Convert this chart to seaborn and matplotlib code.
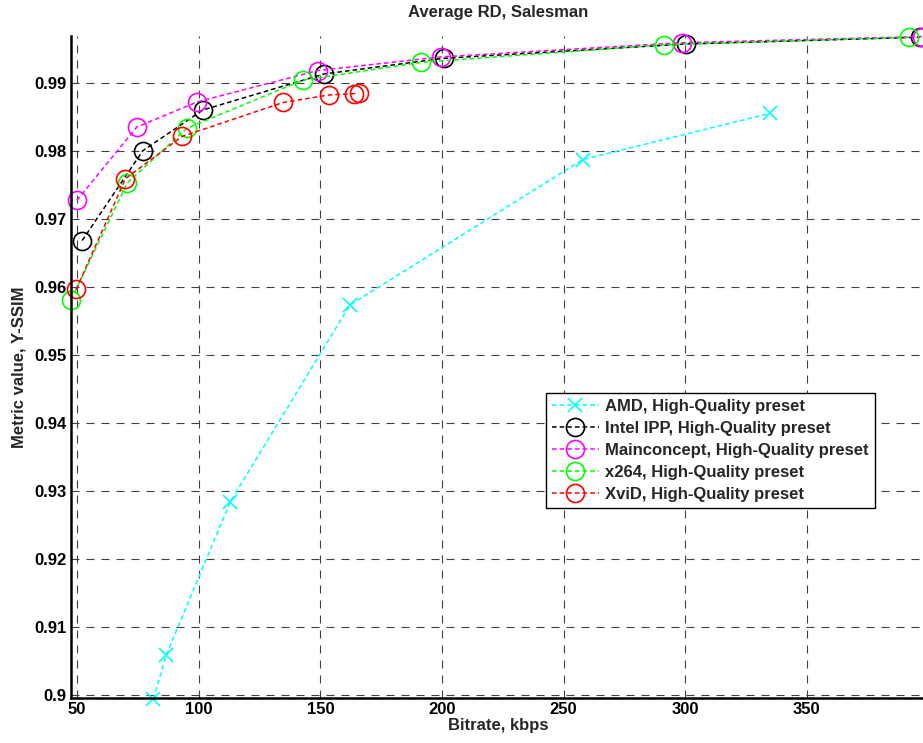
import numpy as np
import pandas as pd
import matplotlib
matplotlib.use("Agg")
import matplotlib.pyplot as plt
import seaborn as sns

sns.set_style("white")
plt.rcParams['font.family'] = ['Liberation Sans', 'DejaVu Sans']
plt.rcParams['font.weight'] = 'bold'

# Data
amd_x = [81.4, 86.6, 113.0, 162.1, 257.9, 334.8]
amd_y = [0.8994, 0.9058, 0.9284, 0.9573, 0.9787, 0.9855]
intel_x = [52.1, 77.0, 101.7, 151.6, 200.7, 300.2, 396.5]
intel_y = [0.9668, 0.9800, 0.9860, 0.9913, 0.9936, 0.9957, 0.9967]
main_x = [49.9, 74.6, 99.5, 148.9, 199.4, 298.8, 397.3]
main_y = [0.9727, 0.9835, 0.9872, 0.9918, 0.9938, 0.9959, 0.9968]
x264_x = [47.5, 70.7, 95.1, 142.9, 191.4, 291.4, 392.1]
x264_y = [0.9581, 0.9753, 0.9833, 0.9904, 0.9930, 0.9956, 0.9967]
xvid_x = [49.6, 69.9, 93.1, 134.7, 153.4, 164.0, 165.7]
xvid_y = [0.9596, 0.9759, 0.9821, 0.9871, 0.9882, 0.9884, 0.98845]

labels = ["AMD, High-Quality preset", "Intel IPP, High-Quality preset",
          "Mainconcept, High-Quality preset", "x264, High-Quality preset",
          "XviD, High-Quality preset"]
xticks = [50, 100, 150, 200, 250, 300, 350]
yticks = [0.90, 0.91, 0.92, 0.93, 0.94, 0.95, 0.96, 0.97, 0.98, 0.99]
ytick_labels = ["0.9", "0.91", "0.92", "0.93", "0.94", "0.95", "0.96", "0.97", "0.98", "0.99"]

series = [(amd_x, amd_y, "#00FFFF", "x"),
          (intel_x, intel_y, "#000000", "o"),
          (main_x, main_y, "#FF00FF", "o"),
          (x264_x, x264_y, "#00FF00", "o"),
          (xvid_x, xvid_y, "#FF0000", "o")]

FS = 12

fig = plt.figure(figsize=(9.23, 7.43), dpi=100)
ax = fig.add_axes([71/923, 1 - 697.7/743, 1 - 71/923 + 0.002, (697.7 - 36)/743])

for (xs, ys, c, m), lab in zip(series, labels):
    df = pd.DataFrame({"x": xs, "y": ys})
    sns.lineplot(data=df, x="x", y="y", ax=ax, sort=False, color=c,
                 marker=m, markersize=13 if m == "o" else 10,
                 markerfacecolor="none", markeredgecolor=c, markeredgewidth=1.2,
                 linestyle=(0, (3, 2)), linewidth=1.1, label=lab, clip_on=False)

ax.set_xlim(47.5, 398.5)
ax.set_ylim(0.89956, 0.99688)
ax.set_xticks(xticks)
ax.set_xticklabels([str(t) for t in xticks])
ax.set_yticks(yticks)
ax.set_yticklabels(ytick_labels)
ax.grid(True, color="#404040", linestyle=(0, (7.2, 6.3)), linewidth=0.8)
ax.set_axisbelow(True)
ax.tick_params(direction="in", length=5, width=1, labelsize=FS, colors="black", pad=3)
for lab in ax.get_xticklabels() + ax.get_yticklabels():
    lab.set_fontweight("bold")
for s in ["top", "right"]:
    ax.spines[s].set_visible(False)
for s in ["left", "bottom"]:
    ax.spines[s].set_color("black")
    ax.spines[s].set_linewidth(1.8)

ax.set_xlabel("Bitrate, kbps", fontsize=FS, fontweight="bold", labelpad=1)
ax.set_ylabel("Metric value, Y-SSIM", fontsize=FS, fontweight="bold", labelpad=6)
ax.set_title("Average RD, Salesman", fontsize=FS, fontweight="bold", pad=14)

leg = ax.legend(loc="upper left", bbox_to_anchor=((545 - 71) / (923 - 71), 1 - (393 - 36) / (697.7 - 36)),
                prop={"weight": "bold", "size": FS}, frameon=True, fancybox=False,
                edgecolor="black", framealpha=1, handlelength=2.8, borderpad=0.35,
                labelspacing=0.42, handletextpad=0.4, borderaxespad=0)
leg.get_frame().set_linewidth(1.0)

fig.savefig("out.png", dpi=100)
